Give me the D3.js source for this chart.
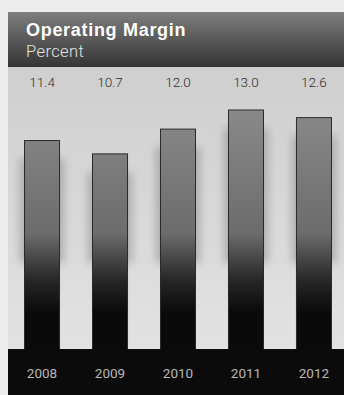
<!DOCTYPE html>
<html>
<head>
<meta charset="utf-8">
<script src="https://cdn.jsdelivr.net/npm/d3@7"></script>
<style>
  html, body { margin: 0; padding: 0; background: #ececec; }
  svg { display: block; }
</style>
</head>
<body>
<svg id="chart" width="344" height="395"></svg>
<script>
// Operating margin, percent, by fiscal year
const years = ["2008", "2009", "2010", "2011", "2012"];
const margins = [11.4, 10.7, 12.0, 13.0, 12.6];
const valueLabels = ["11.4", "10.7", "12.0", "13.0", "12.6"];

const W = 344, H = 395;
const svg = d3.select("#chart");
const defs = svg.append("defs");

// header band: mid grey fading to dark
const hg = defs.append("linearGradient").attr("id", "headGrad")
  .attr("x1", 0).attr("y1", 0).attr("x2", 0).attr("y2", 1);
hg.append("stop").attr("offset", 0).attr("stop-color", "#7e7e7e");
hg.append("stop").attr("offset", 1).attr("stop-color", "#343434");

// plot panel: light grey, slightly lighter toward the bottom
const pg = defs.append("linearGradient").attr("id", "panelGrad")
  .attr("x1", 0).attr("y1", 0).attr("x2", 0).attr("y2", 1);
pg.append("stop").attr("offset", 0).attr("stop-color", "#cfcfcf");
pg.append("stop").attr("offset", 1).attr("stop-color", "#e2e2e2");

// bars: grey at the top, sinking into black near the baseline
const bg = defs.append("linearGradient").attr("id", "barGrad")
  .attr("gradientUnits", "userSpaceOnUse")
  .attr("x1", 0).attr("y1", 105).attr("x2", 0).attr("y2", 312);
bg.append("stop").attr("offset", 0).attr("stop-color", "#8a8a8a");
bg.append("stop").attr("offset", 0.62).attr("stop-color", "#6c6c6c");
bg.append("stop").attr("offset", 0.85).attr("stop-color", "#262626");
bg.append("stop").attr("offset", 1).attr("stop-color", "#0a0a0a");

const blur = defs.append("filter").attr("id", "soft")
  .attr("x", "-50%").attr("y", "-50%").attr("width", "200%").attr("height", "200%");
blur.append("feGaussianBlur").attr("stdDeviation", 4);

// scales
const x = d3.scaleBand().domain(years).range([8, 348])
  .paddingInner(0.485).paddingOuter(0.243);
const y = d3.scaleLinear().domain([0, 13]).range([358, 110]);

const panelTop = 67, bandTop = 349;

// panel
svg.append("rect").attr("x", 8).attr("y", panelTop)
  .attr("width", W - 8).attr("height", bandTop - panelTop)
  .attr("fill", "url(#panelGrad)");

// header
svg.append("rect").attr("x", 8).attr("y", 12)
  .attr("width", W - 8).attr("height", panelTop - 12)
  .attr("fill", "url(#headGrad)");

svg.append("text").attr("x", 26).attr("y", 36)
  .attr("font-family", "'Liberation Sans', Arial, sans-serif")
  .attr("font-weight", 700).attr("font-size", 18)
  .attr("letter-spacing", 0.7)
  .attr("fill", "#ffffff").text("Operating Margin");

svg.append("text").attr("x", 26).attr("y", 57)
  .attr("font-family", "Roboto, 'Liberation Sans', sans-serif")
  .attr("font-weight", 300).attr("font-size", 16.5)
  .attr("letter-spacing", 0.4)
  .attr("fill", "#e6e6e6").text("Percent");

// value labels above the plot
svg.append("g").selectAll("text").data(years).join("text")
  .attr("x", d => x(d) + x.bandwidth() / 2)
  .attr("y", 87)
  .attr("text-anchor", "middle")
  .attr("font-family", "Roboto, 'Liberation Sans', sans-serif")
  .attr("font-weight", 300).attr("font-size", 13.5)
  .attr("fill", "#2e2e2e")
  .text((d, i) => valueLabels[i]);

// soft shadows around the bar tops
svg.append("g").attr("filter", "url(#soft)").selectAll("rect").data(years).join("rect")
  .attr("x", d => x(d) - 5)
  .attr("y", (d, i) => y(margins[i]) + 18)
  .attr("width", x.bandwidth() + 10)
  .attr("height", (d, i) => Math.max(0, 245 - y(margins[i])))
  .attr("fill", "#8c8c8c").attr("opacity", 0.55);

// bars
svg.append("g").selectAll("rect").data(years).join("rect")
  .attr("x", d => x(d))
  .attr("y", (d, i) => y(margins[i]))
  .attr("width", x.bandwidth())
  .attr("height", (d, i) => y(0) - y(margins[i]))
  .attr("fill", "url(#barGrad)")
  .attr("stroke", "#2a2a2a").attr("stroke-width", 1);

// dark baseline band with year labels
svg.append("rect").attr("x", 8).attr("y", bandTop)
  .attr("width", W - 8).attr("height", H - bandTop)
  .attr("fill", "#0b0b0b");

svg.append("g").selectAll("text").data(years).join("text")
  .attr("x", d => x(d) + x.bandwidth() / 2)
  .attr("y", 378)
  .attr("text-anchor", "middle")
  .attr("font-family", "Roboto, 'Liberation Sans', sans-serif")
  .attr("font-weight", 400).attr("font-size", 13.5)
  .attr("fill", "#b8b8b8")
  .text(d => d);
</script>
</body>
</html>
